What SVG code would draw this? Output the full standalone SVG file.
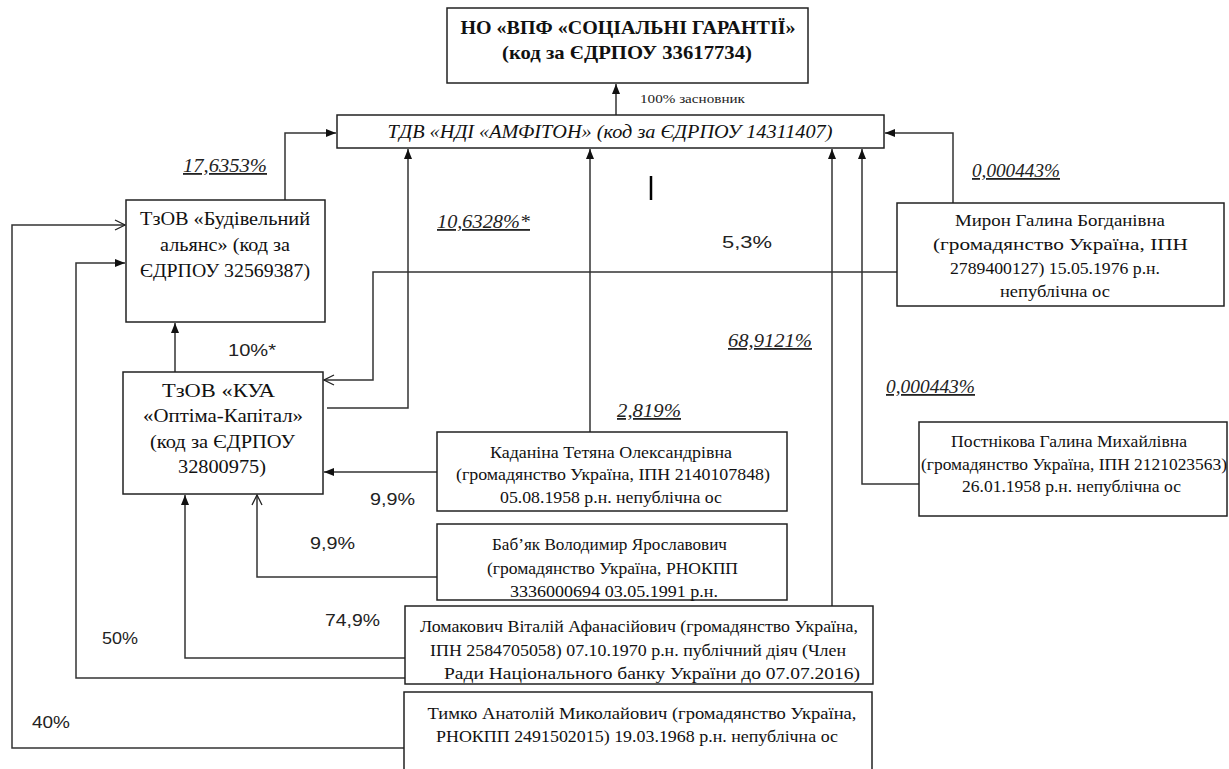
<svg xmlns="http://www.w3.org/2000/svg" width="1229" height="769" viewBox="0 0 1229 769">
<style>
.box{fill:#fff;stroke:#222;stroke-width:1.5}
.t{font-family:"Liberation Serif","Times New Roman",serif;font-size:17px;fill:#111;text-anchor:middle}
.l{font-size:18.5px}
.b{font-weight:bold;font-size:19px}
.i{font-style:italic}
.pct{font-family:"Liberation Serif",serif;font-style:italic;font-size:18px;fill:#222;text-decoration:underline}
.lab{font-family:"Liberation Sans",Arial,sans-serif;font-size:17px;fill:#222}
.c{fill:none;stroke:#333;stroke-width:1.5}
</style>
<defs>
<marker id="af" viewBox="0 0 10 10" refX="10" refY="5" markerWidth="10" markerHeight="10" markerUnits="userSpaceOnUse" orient="auto"><path d="M0,1 L10,5 L0,9 Z" fill="#111"/></marker>
<marker id="ao" viewBox="0 0 12 12" refX="11" refY="6" markerWidth="12" markerHeight="12" markerUnits="userSpaceOnUse" orient="auto"><path d="M1,1 L11,6 L1,11" fill="none" stroke="#222" stroke-width="1.3"/></marker>
</defs>
<rect width="1229" height="769" fill="#fff"/>

<g id="connectors">
<path class="c" d="M616 115 V84" marker-end="url(#af)"/>
<path class="c" d="M285 200 V133 H336" marker-end="url(#af)"/>
<path class="c" d="M953 203 V133 H885" marker-end="url(#af)"/>
<path class="c" d="M327 408 H408 V149" marker-end="url(#af)"/>
<path class="c" d="M590 432 V149" marker-end="url(#af)"/>
<path class="c" d="M832 606 V149" marker-end="url(#af)"/>
<path class="c" d="M919 484 H862 V149" marker-end="url(#af)" stroke="#666"/>
<path class="c" d="M175 372 V323" marker-end="url(#af)"/>
<path class="c" d="M897 272 H373 V380 H324" marker-end="url(#ao)"/>
<path class="c" d="M437 472 H324" marker-end="url(#af)"/>
<path class="c" d="M437 577 H257 V495" marker-end="url(#ao)"/>
<path class="c" d="M405 658 H185 V495" marker-end="url(#af)"/>
<path class="c" d="M405 678 H76 V263 H125" marker-end="url(#af)"/>
<path class="c" d="M404 748 H12 V225 H125" marker-end="url(#ao)"/>
<line x1="651" y1="176" x2="651" y2="200" stroke="#000" stroke-width="2.5"/>
<text x="640" y="103" style="font-family:'Liberation Serif',serif;font-size:13px;fill:#222" textLength="105" lengthAdjust="spacingAndGlyphs">100% засновник</text>
<text class="pct" x="183" y="172" textLength="84" lengthAdjust="spacingAndGlyphs">17,6353%</text>
<text class="pct" x="437" y="228" textLength="93" lengthAdjust="spacingAndGlyphs">10,6328%*</text>
<text class="pct" x="728" y="347" textLength="84" lengthAdjust="spacingAndGlyphs">68,9121%</text>
<text class="pct" x="617" y="417" textLength="64" lengthAdjust="spacingAndGlyphs">2,819%</text>
<text class="pct" x="972" y="177" textLength="88" lengthAdjust="spacingAndGlyphs">0,000443%</text>
<text class="pct" x="886" y="393" textLength="89" lengthAdjust="spacingAndGlyphs">0,000443%</text>
<text class="lab" x="722" y="248" textLength="50" lengthAdjust="spacingAndGlyphs">5,3%</text>
<text class="lab" x="228" y="356" textLength="48" lengthAdjust="spacingAndGlyphs">10%*</text>
<text class="lab" x="370" y="505" textLength="45" lengthAdjust="spacingAndGlyphs">9,9%</text>
<text class="lab" x="310" y="549" textLength="45" lengthAdjust="spacingAndGlyphs">9,9%</text>
<text class="lab" x="325" y="626" textLength="55" lengthAdjust="spacingAndGlyphs">74,9%</text>
<text class="lab" x="102" y="644" textLength="36" lengthAdjust="spacingAndGlyphs">50%</text>
<text class="lab" x="32" y="728" textLength="38" lengthAdjust="spacingAndGlyphs">40%</text>
</g>

<g id="n-no">
<rect class="box" x="447" y="8" width="361" height="75"/>
<text class="t b" x="628" y="34" textLength="335" lengthAdjust="spacingAndGlyphs">НО «ВПФ «СОЦІАЛЬНІ ГАРАНТІЇ»</text>
<text class="t b" x="627" y="59" textLength="250" lengthAdjust="spacingAndGlyphs">(код за ЄДРПОУ 33617734)</text>
</g>

<g id="n-tdv">
<rect class="box" x="337" y="115" width="547" height="33"/>
<text class="t i" x="610" y="138" style="font-size:18px" textLength="445" lengthAdjust="spacingAndGlyphs">ТДВ «НДІ «АМФІТОН» (код за ЄДРПОУ 14311407)</text>
</g>

<g id="n-bud">
<rect class="box" x="126" y="200" width="199" height="122"/>
<text class="t l" x="225" y="225" textLength="170" lengthAdjust="spacingAndGlyphs">ТзОВ «Будівельний</text>
<text class="t l" x="225" y="251" textLength="130" lengthAdjust="spacingAndGlyphs">альянс» (код за</text>
<text class="t l" x="225" y="277" textLength="170" lengthAdjust="spacingAndGlyphs">ЄДРПОУ 32569387)</text>
</g>

<g id="n-optima">
<rect class="box" x="123" y="372" width="200" height="122"/>
<text class="t l" x="218.5" y="397" textLength="113" lengthAdjust="spacingAndGlyphs">ТзОВ «КУА</text>
<text class="t l" x="223" y="422" textLength="160" lengthAdjust="spacingAndGlyphs">«Оптіма-Капітал»</text>
<text class="t l" x="222.5" y="448" textLength="145" lengthAdjust="spacingAndGlyphs">(код за ЄДРПОУ</text>
<text class="t l" x="222" y="473" textLength="88" lengthAdjust="spacingAndGlyphs">32800975)</text>
</g>

<g id="n-myron">
<rect class="box" x="897" y="203" width="327" height="103"/>
<text class="t" x="1060" y="226" textLength="210" lengthAdjust="spacingAndGlyphs">Мирон Галина Богданівна</text>
<text class="t" x="1060.5" y="250" textLength="255" lengthAdjust="spacingAndGlyphs">(громадянство Україна, ІПН</text>
<text class="t" x="1055" y="274" textLength="210" lengthAdjust="spacingAndGlyphs">2789400127) 15.05.1976 р.н.</text>
<text class="t" x="1055" y="297" textLength="110" lengthAdjust="spacingAndGlyphs">непублічна ос</text>
</g>

<g id="n-postnikova">
<rect class="box" x="919" y="422" width="308" height="94"/>
<text class="t" x="1069" y="447" textLength="236" lengthAdjust="spacingAndGlyphs">Постнікова Галина Михайлівна</text>
<text class="t" x="1074" y="470" textLength="306" lengthAdjust="spacingAndGlyphs">(громадянство Україна, ІПН 2121023563)</text>
<text class="t" x="1071.5" y="492" textLength="219" lengthAdjust="spacingAndGlyphs">26.01.1958 р.н. непублічна ос</text>
</g>

<g id="n-kadanina">
<rect class="box" x="437" y="432" width="350" height="79"/>
<text class="t" x="611" y="458" textLength="242" lengthAdjust="spacingAndGlyphs">Каданіна Тетяна Олександрівна</text>
<text class="t" x="613" y="480" textLength="314" lengthAdjust="spacingAndGlyphs">(громадянство Україна, ІПН 2140107848)</text>
<text class="t" x="611" y="503" textLength="222" lengthAdjust="spacingAndGlyphs">05.08.1958 р.н. непублічна ос</text>
</g>

<g id="n-babiak">
<rect class="box" x="437" y="524" width="350" height="76"/>
<text class="t" x="609.5" y="550" textLength="235" lengthAdjust="spacingAndGlyphs">Баб’як Володимир Ярославович</text>
<text class="t" x="612.5" y="574" textLength="251" lengthAdjust="spacingAndGlyphs">(громадянство Україна, РНОКПП</text>
<text class="t" x="614" y="597" textLength="208" lengthAdjust="spacingAndGlyphs">3336000694 03.05.1991 р.н.</text>
</g>

<g id="n-lomakovych">
<rect class="box" x="405" y="606" width="468" height="78"/>
<text class="t" x="639" y="632" textLength="438" lengthAdjust="spacingAndGlyphs">Ломакович Віталій Афанасійович (громадянство Україна,</text>
<text class="t" x="638" y="656" textLength="416" lengthAdjust="spacingAndGlyphs">ІПН 2584705058) 07.10.1970 р.н. публічний діяч (Член</text>
<text class="t" x="652" y="679" textLength="416" lengthAdjust="spacingAndGlyphs">Ради Національного банку України до 07.07.2016)</text>
</g>

<g id="n-tymko">
<rect class="box" x="404" y="692" width="468" height="90"/>
<text class="t" x="642" y="719" textLength="429" lengthAdjust="spacingAndGlyphs">Тимко Анатолій Миколайович (громадянство Україна,</text>
<text class="t" x="637" y="742" textLength="402" lengthAdjust="spacingAndGlyphs">РНОКПП 2491502015) 19.03.1968 р.н. непублічна ос</text>
</g>
</svg>
